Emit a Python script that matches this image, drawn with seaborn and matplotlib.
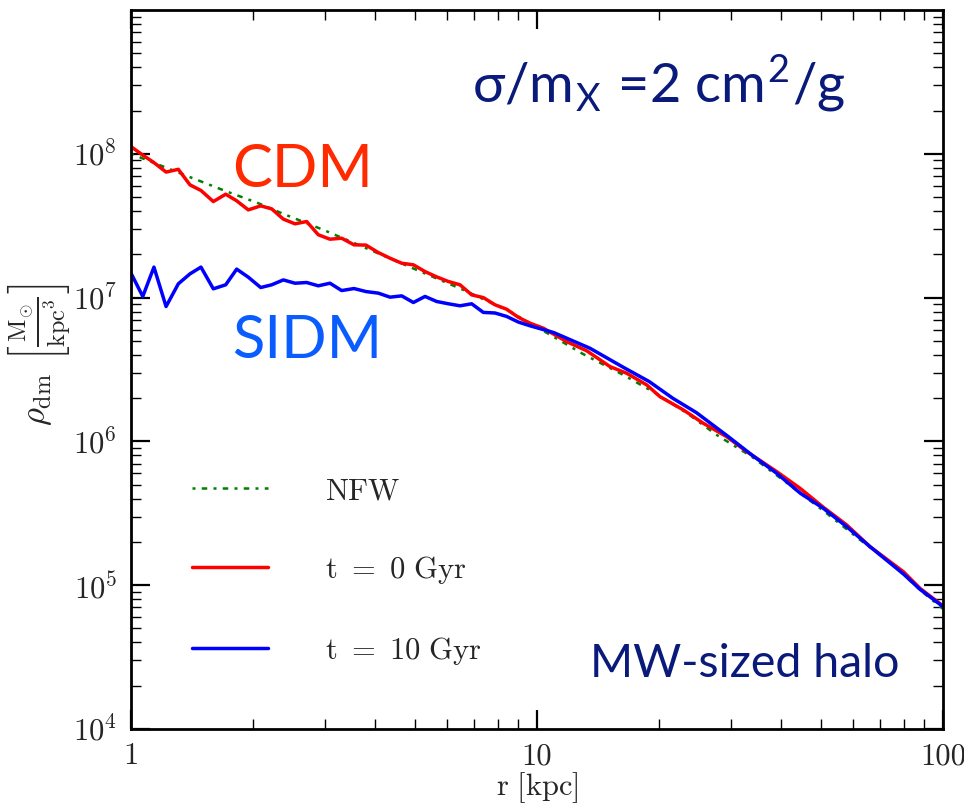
import numpy as np
import pandas as pd
import matplotlib
matplotlib.use("Agg")
import matplotlib.pyplot as plt
import seaborn as sns

# ---- data ----
r_cdm = [1.0, 1.07, 1.135, 1.22, 1.308, 1.397, 1.487, 1.595, 1.711, 1.821, 1.945, 2.087,
         2.221, 2.372, 2.535, 2.708, 2.893, 3.091, 3.303, 3.542, 3.792, 4.066, 4.345,
         4.642, 4.96, 5.299, 5.661, 6.049, 6.462, 6.904, 7.376, 7.88, 8.42, 8.995, 9.61,
         10.37, 11.83, 13.26, 15.13, 16.63, 18.63, 20.09, 22.93, 25.68, 29.32, 32.85,
         38.93, 44.45, 50.72, 57.91, 66.1, 79.86, 87.76, 100.0]
logrho_cdm = [8.05, 7.99, 7.942, 7.873, 7.892, 7.784, 7.745, 7.668, 7.719, 7.673, 7.610, 7.638,
              7.617, 7.546, 7.513, 7.529, 7.437, 7.406, 7.413, 7.367, 7.365, 7.313, 7.274,
              7.239, 7.228, 7.181, 7.144, 7.112, 7.089, 7.019, 7.000, 6.950, 6.919, 6.863, 6.822,
              6.787, 6.694, 6.630, 6.520, 6.474, 6.393, 6.311, 6.219, 6.126, 6.033, 5.929,
              5.790, 5.674, 5.542, 5.419, 5.268, 5.094, 4.978, 4.856]

r_sidm = [1.0, 1.069, 1.139, 1.22, 1.308, 1.397, 1.487, 1.595, 1.711, 1.821, 1.945, 2.087,
          2.221, 2.372, 2.535, 2.708, 2.893, 3.091, 3.303, 3.542, 3.792, 4.066, 4.345,
          4.642, 4.96, 5.299, 5.661, 6.049, 6.462, 6.904, 7.376, 7.88, 8.42, 8.995, 9.61,
          10.99, 13.5, 16.3, 18.9, 21.6, 24.7, 29.6, 33.8, 38.9, 44.5, 50.7, 57.9, 66.1,
          79.9, 87.8, 100.0]
logrho_sidm = [7.17, 7.008, 7.212, 6.938, 7.096, 7.165, 7.212, 7.061, 7.089, 7.198, 7.142, 7.070,
               7.089, 7.123, 7.100, 7.105, 7.082, 7.100, 7.049, 7.063, 7.042, 7.031, 7.003,
               7.012, 6.966, 7.008, 6.973, 6.957, 6.943, 6.957, 6.897, 6.893, 6.869, 6.830, 6.804,
               6.757, 6.648, 6.516, 6.416, 6.300, 6.200, 6.033, 5.906, 5.779, 5.640, 5.535,
               5.407, 5.268, 5.078, 4.971, 4.851]

r_nfw = [1.0, 1.371, 1.72, 2.04, 2.35, 2.977, 3.88, 5.05, 6.58, 8.58, 10.6, 12.96, 16.3,
         19.6, 23.4, 27.7, 33.8, 41.9, 51.7, 62.5, 75.6, 87.8, 100.0]
logrho_nfw = [8.0, 7.847, 7.738, 7.661, 7.587, 7.471, 7.332, 7.193, 7.054, 6.903, 6.753, 6.609,
              6.463, 6.335, 6.197, 6.045, 5.894, 5.697, 5.500, 5.315, 5.141, 4.967, 4.835]

labels = [r"$\mathrm{NFW}$", r"$\mathrm{t\ =\ 0\ Gyr}$", r"$\mathrm{t\ =\ 10\ Gyr}$"]
xticks = [1, 10, 100]
xticklabels = ["1", "10", "100"]

# ---- style ----
sns.set_theme(style="ticks")
plt.rcParams.update({
    "font.family": "serif",
    "font.serif": ["cmr10"],
    "mathtext.fontset": "cm",
    "axes.formatter.use_mathtext": True,
    "axes.unicode_minus": False,
})

fig = plt.figure(figsize=(9.64, 8.06), dpi=100)
ax = fig.add_axes([131 / 964, 77 / 806, 812 / 964, 719 / 806])

df_nfw = pd.DataFrame({"r": r_nfw, "rho": 10 ** np.array(logrho_nfw)})
df_cdm = pd.DataFrame({"r": r_cdm, "rho": 10 ** np.array(logrho_cdm)})
df_sidm = pd.DataFrame({"r": r_sidm, "rho": 10 ** np.array(logrho_sidm)})

sns.lineplot(data=df_nfw, x="r", y="rho", ax=ax, color="#008000", lw=1.8,
             linestyle=(0, (1.2, 2.5, 2.2, 2.5)), estimator=None, sort=False, label=labels[0])
sns.lineplot(data=df_cdm, x="r", y="rho", ax=ax, color="#ff0000", lw=2.5,
             estimator=None, sort=False, label=labels[1])
sns.lineplot(data=df_sidm, x="r", y="rho", ax=ax, color="#0000ff", lw=2.5,
             estimator=None, sort=False, label=labels[2])

ax.set_xscale("log")
ax.set_yscale("log")
ax.set_xlim(1, 100)
ax.set_ylim(1e4, 1e9)
ax.set_xticks(xticks)
ax.set_xticklabels(xticklabels)
ax.set_yticks([1e4, 1e5, 1e6, 1e7, 1e8])

ax.tick_params(which="both", direction="in", top=True, right=True, labelsize=22, color="black")
ax.tick_params(which="major", length=14, width=1.6, pad=10)
ax.tick_params(which="minor", length=7, width=1.0)
for s in ax.spines.values():
    s.set_linewidth(2.0)
    s.set_color("black")

ax.set_xlabel(r"$\mathrm{r\ [kpc]}$", fontsize=22, labelpad=0)
ax.set_ylabel(r"$\rho_{\rm dm}\ \left[\frac{\rm M_{\odot}}{\rm kpc^{3}}\right]$", fontsize=25)
ax.yaxis.set_label_coords(-0.072, 0.52)

leg = ax.legend(loc="center left", bbox_to_anchor=(0.075, 0.218), frameon=False, fontsize=22,
                handlelength=2.5, handletextpad=1.85, labelspacing=1.6, borderpad=0,
                borderaxespad=0)

ax.text(0.125, 0.778, "CDM", transform=ax.transAxes, fontsize=43, color="#ff2a00",
        family="Lato", ha="left", va="center")
ax.text(0.125, 0.54, "SIDM", transform=ax.transAxes, fontsize=43, color="#0a5cff",
        family="Lato", ha="left", va="center")
ax.text(0.42, 0.897, r"σ/m$_{\mathregular{X}}$ =2 cm$^{\mathregular{2}}$/g", transform=ax.transAxes,
        fontsize=39, color="#0a1a7a", family="Lato", ha="left", va="center")
ax.text(0.565, 0.09, "MW-sized halo", transform=ax.transAxes, fontsize=33.5, color="#0a1a7a",
        family="Lato", ha="left", va="center")

fig.savefig("out.png", dpi=100)
